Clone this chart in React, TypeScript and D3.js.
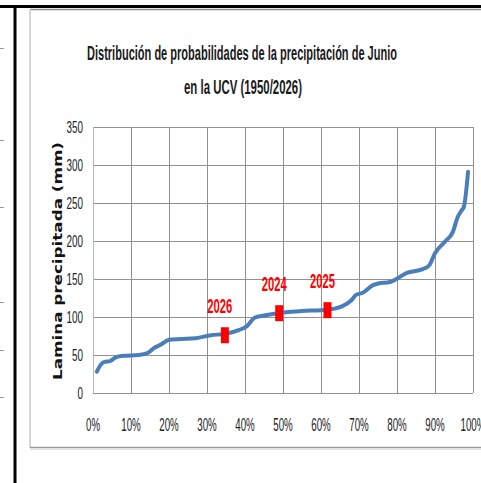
import React from "react";
import * as d3 from "d3";

const curvePct = [1.0, 2.0, 3.0, 4.5, 6.0, 8.0, 12.0, 14.5, 16.0, 18.0, 20.0, 23.0, 27.0, 31.0, 35.0, 38.5, 40.5, 42.5, 45.0, 50.0, 55.0, 60.0, 63.5, 65.5, 68.0, 69.2, 71.0, 73.7, 75.0, 78.2, 82.6, 86.8, 88.5, 90.0, 92.6, 94.7, 96.0, 97.1, 97.6, 98.7];
const curveVal = [28, 37, 41, 42, 47, 49, 50, 53, 59, 64, 70, 71, 72, 76, 78, 83, 88, 99, 102, 106, 108, 109, 111, 114, 122, 129, 132, 142, 144, 146, 158, 163, 168, 184, 199, 212, 232, 241, 245, 291];

const markerYears = ["2026", "2024", "2025"];
const markerPct = [34.7, 49.0, 61.7];
const markerVal = [76, 105, 109];

const yTicks = [0, 50, 100, 150, 200, 250, 300, 350];
const xTicks = [0, 10, 20, 30, 40, 50, 60, 70, 80, 90, 100];

const titleLines = ["Distribución de probabilidades de la precipitación de Junio", "en la UCV (1950/2026)"];
const yLabel = "Lamina precipitada (mm)";

export default function App() {
  const W = 481, H = 483;
  const x = d3.scaleLinear().domain([0, 100]).range([93, 473]);
  const y = d3.scaleLinear().domain([0, 350]).range([393, 127]);
  const pts: [number, number][] = curvePct.map((p, i) => [p, curveVal[i]]);
  const line = d3.line<[number, number]>().x(d => x(d[0])).y(d => y(d[1])).curve(d3.curveMonotoneX);
  const font = "'Liberation Sans', Arial, sans-serif";
  const labW = (s: string) => s.replace("%", "").length * 5.5 + (s.includes("%") ? 8.5 : 0);
  const leftTicks = [48, 140, 207, 302, 350, 397];
  return (
    <svg width={W} height={H} style={{ position: "absolute", left: 0, top: 0, background: "#fff" }}>
      <rect x={0} y={0} width={W} height={H} fill="#fff" />
      {leftTicks.map((t, i) => (
        <line key={i} x1={0} x2={4} y1={t + 0.5} y2={t + 0.5} stroke="#999" strokeWidth={1} />
      ))}
      <line x1={0} x2={W} y1={6.5} y2={6.5} stroke="#000" strokeWidth={3} />
      <line x1={15} x2={15} y1={5} y2={H} stroke="#000" strokeWidth={3} />
      {/* chart area border */}
      <line x1={30} x2={W} y1={9.5} y2={9.5} stroke="#8a8a8a" strokeWidth={1.5} />
      <line x1={30} x2={30} y1={9} y2={448} stroke="#c8c8c8" strokeWidth={1.5} />
      <line x1={30} x2={W} y1={447.5} y2={447.5} stroke="#9a9a9a" strokeWidth={1.5} />
      <line x1={30} x2={W} y1={449.5} y2={449.5} stroke="#e0e0e0" strokeWidth={1} />
      {/* title */}
      <text x={242} y={60} textAnchor="middle" fontFamily={font} fontWeight="bold" fontSize={19.5} textLength={310} lengthAdjust="spacingAndGlyphs" fill="#1a1a1a">{titleLines[0]}</text>
      <text x={243} y={94} textAnchor="middle" fontFamily={font} fontWeight="bold" fontSize={19.5} textLength={118} lengthAdjust="spacingAndGlyphs" fill="#1a1a1a">{titleLines[1]}</text>
      {/* grid */}
      {yTicks.map(t => (
        <line key={"h" + t} x1={93} x2={473} y1={Math.round(y(t)) + 0.5} y2={Math.round(y(t)) + 0.5} stroke="#909090" strokeWidth={1} />
      ))}
      {xTicks.map(t => (
        <line key={"v" + t} x1={Math.round(x(t)) + 0.5} x2={Math.round(x(t)) + 0.5} y1={127} y2={393} stroke={t === 0 ? "#b8b8b8" : "#909090"} strokeWidth={1} />
      ))}
      {/* y tick labels */}
      {yTicks.map(t => (
        <text key={"yl" + t} x={83} y={y(t) + 6} textAnchor="end" fontFamily={font} fontSize={16.5} textLength={labW(String(t))} lengthAdjust="spacingAndGlyphs" fill="#222">{t}</text>
      ))}
      {/* x tick labels */}
      {xTicks.map(t => (
        <text key={"xl" + t} x={x(t)} y={431} textAnchor="middle" fontFamily={font} fontSize={18} textLength={labW(t + "%")} lengthAdjust="spacingAndGlyphs" fill="#222">{t + "%"}</text>
      ))}
      {/* y axis label */}
      <text transform={`translate(62,261) rotate(-90)`} textAnchor="middle" fontFamily="'DejaVu Sans', Verdana, sans-serif" fontWeight="bold" fontSize={13} textLength={238} lengthAdjust="spacingAndGlyphs" fill="#111">{yLabel}</text>
      {/* curve */}
      <path d={line(pts) || ""} fill="none" stroke="#4a7ebb" strokeWidth={4} strokeLinejoin="round" strokeLinecap="round" />
      {/* markers */}
      {markerYears.map((yr, i) => (
        <g key={yr}>
          <rect x={x(markerPct[i]) - 4} y={y(markerVal[i]) - 8} width={8} height={16} fill="#ff0000" />
          <text x={x(markerPct[i]) - 5} y={y(markerVal[i]) - 22} textAnchor="middle" fontFamily={font} fontWeight="bold" fontSize={21} textLength={25} lengthAdjust="spacingAndGlyphs" fill="#ff0000">{yr}</text>
        </g>
      ))}
    </svg>
  );
}
